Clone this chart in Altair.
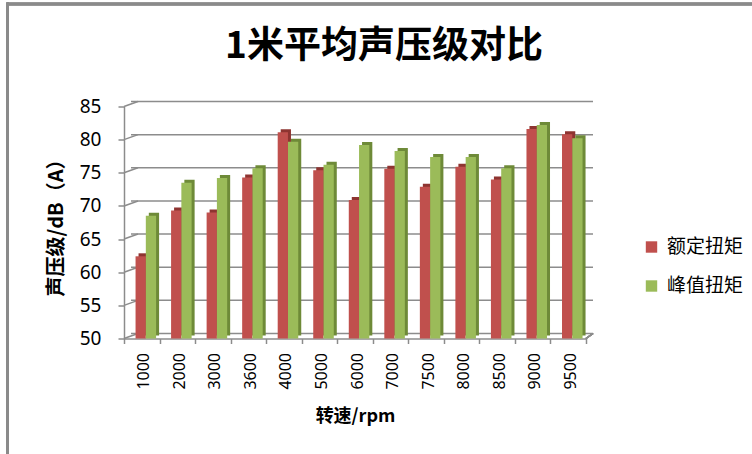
import altair as alt
import pandas as pd

# Engine speeds (rpm) and 1 m average sound pressure levels, dB(A)
speeds = ["1000", "2000", "3000", "3600", "4000", "5000", "6000",
          "7000", "7500", "8000", "8500", "9000", "9500"]
rated = [62.4, 69.3, 69.0, 74.3, 81.1, 75.4, 70.9, 75.6, 72.9, 75.9, 74.0, 81.6, 80.8]
peak = [68.5, 73.5, 74.2, 75.7, 79.7, 76.2, 79.2, 78.3, 77.4, 77.4, 75.7, 82.2, 80.2]
series = ["额定扭矩", "峰值扭矩"]
y_ticks = [50, 55, 60, 65, 70, 75, 80, 85]

face_colors = ["#C0504D", "#9BBB59"]
side_colors = ["#8E3431", "#6E8A38"]
line_gray = "#8C8C8C"
FONT = "Noto Sans CJK SC"

W, H = 462, 232          # plot area
DX, DY = 7, -5           # depth offset of the back wall
SX, SY = 3, -3           # depth offset of the bar side faces

rows = []
for s, r, p in zip(speeds, rated, peak):
    rows.append({"speed": s, "series": series[0], "value": r})
    rows.append({"speed": s, "series": series[1], "value": p})
df = pd.DataFrame(rows)
ticks_df = pd.DataFrame({"value": y_ticks})

y_scale = alt.Scale(domain=[50, 85], nice=False, zero=False)
y_axis = alt.Axis(
    orient="left", values=y_ticks, tickCount=len(y_ticks), grid=False, labelFontSize=19,
    labelFont="Noto Sans", labelColor="#000000", labelPadding=17, labelOverlap=False,
    labelSeparation=0, tickSize=6, tickColor=line_gray, tickWidth=1.5,
    domainColor=line_gray, domainWidth=1.5,
    titleFont=FONT, titleFontSize=20, titleFontWeight="bold", titleColor="#000000",
    titlePadding=13,
)
y_title = "声压级/dB（A）"

x_axis = alt.Axis(
    labelAngle=270, labelFontSize=16, labelFont="Noto Sans", labelColor="#000000",
    labelPadding=9, labelBaseline="middle", labelAlign="right", labelOffset=2,
    tickBand="extent", tickSize=5, tickColor=line_gray, tickWidth=1.5,
    domainColor=line_gray, domainWidth=1.5,
    titleFont=FONT, titleFontSize=18, titleFontWeight="bold", titleColor="#000000",
    titlePadding=18,
)

# the bar pair sits to the right inside each category band
offset_scale = alt.Scale(paddingInner=0, paddingOuter=0.73, align=0.77)

# back wall gridlines
grid = alt.Chart(ticks_df).mark_rule(
    color=line_gray, strokeWidth=1.5, xOffset=DX, x2Offset=DX, yOffset=DY
).encode(y=alt.Y("value:Q", scale=y_scale, axis=None), x=alt.value(0), x2=alt.value(W))

# short connectors from the front ticks to the back wall
stubs = alt.Chart(ticks_df).mark_rule(
    color=line_gray, strokeWidth=1.5, x2Offset=DX, y2Offset=DY
).encode(
    y=alt.Y("value:Q", scale=y_scale, axis=None), y2="value:Q",
    x=alt.value(0), x2=alt.value(DX),
)

# right edge of the floor
floor_edge = alt.Chart(ticks_df).mark_rule(
    color=line_gray, strokeWidth=1.5, x2Offset=DX, y2Offset=DY
).encode(
    y=alt.value(H), y2=alt.value(H),
    x=alt.value(W), x2=alt.value(W),
)

# darker side faces / top caps, drawn on a copy of the band scale shifted into depth
sides = alt.Chart(df).mark_bar(yOffset=SY, y2Offset=SY).encode(
    x=alt.X("speed:N", sort=speeds, axis=None,
            scale=alt.Scale(paddingInner=0, paddingOuter=0, range=[SX, W + SX])),
    xOffset=alt.XOffset("series:N", sort=series, scale=offset_scale),
    y=alt.Y("value:Q", scale=y_scale, axis=None),
    y2=alt.datum(50),
    color=alt.condition(
        alt.datum.series == series[0], alt.value(side_colors[0]), alt.value(side_colors[1])
    ),
)

faces = alt.Chart(df).mark_bar().encode(
    x=alt.X("speed:N", sort=speeds, title="转速/rpm", axis=x_axis,
            scale=alt.Scale(paddingInner=0, paddingOuter=0)),
    xOffset=alt.XOffset("series:N", sort=series, scale=offset_scale),
    y=alt.Y("value:Q", scale=y_scale, axis=y_axis, title=y_title),
    y2=alt.datum(50),
    color=alt.Color(
        "series:N", title=None,
        scale=alt.Scale(domain=series, range=face_colors),
        legend=alt.Legend(
            orient="none", legendX=518, legendY=131, symbolType="square",
            symbolSize=130, symbolStrokeWidth=0, labelFont=FONT, labelFontSize=19,
            labelColor="#000000", labelOffset=6, rowPadding=19,
        ),
    ),
)

# outer frame lines of the chart sheet
frame_top = alt.Chart(ticks_df).mark_rule(color="#8A8A8A", strokeWidth=2.5).encode(
    x=alt.value(-117), x2=alt.value(628), y=alt.value(-102.5)
)
frame_left = alt.Chart(ticks_df).mark_rule(color="#8A8A8A", strokeWidth=2).encode(
    x=alt.value(-116.5), y=alt.value(-104), y2=alt.value(348)
)

chart = alt.layer(
    grid, stubs, floor_edge, sides, faces, frame_top, frame_left
).resolve_scale(
    x="independent", y="independent"
).properties(
    width=W, height=H,
    autosize=alt.AutoSizeParams(type="none"),
    padding={"left": 124, "top": 106.5, "right": 166, "bottom": 115.5},
    title=alt.Title(
        "1米平均声压级对比", font=FONT, fontSize=37, fontWeight="bold",
        color="#000000", anchor="middle", dx=29, offset=-64, frame="group",
    ),
).configure_view(
    stroke=None
).configure_axis(
    labelOverlap=False
)

chart.save("out.html", embed_options={"renderer": "svg", "actions": False})
